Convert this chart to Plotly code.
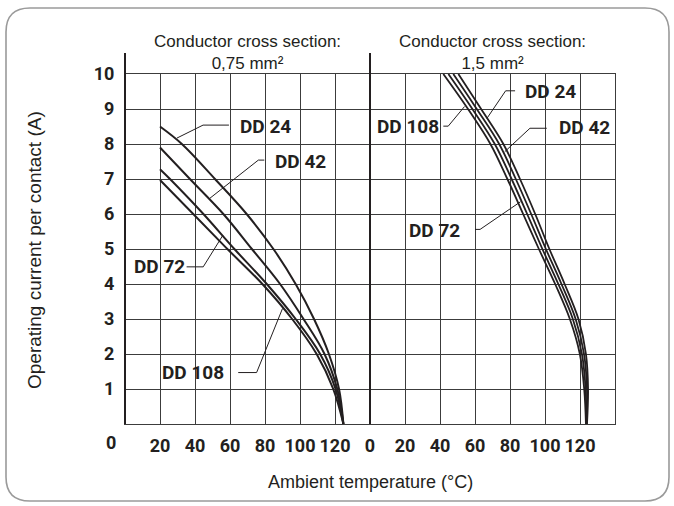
import plotly.graph_objects as go

# ---------------- data ----------------
# Left panel: conductor cross section 0,75 mm²  (temperature °C, current A)
L24_T = [20, 32.5, 51.4, 69.5, 84.8, 97.5, 108.0, 116.5, 122.3, 124.8]
L24_I = [8.5, 8, 7, 6, 5, 4, 3, 2, 1, 0]
L42_T = [20, 37.1, 56.2, 72.5, 88.6, 102.0, 114.0, 121.3, 124.8]
L42_I = [7.9, 7, 6, 5, 4, 3, 2, 1, 0]
L72_T = [20, 25.7, 44.8, 62.5, 81.0, 97.5, 111.5, 120.3, 124.8]
L72_I = [7.28, 7, 6, 5, 4, 3, 2, 1, 0]
L108_T = [20, 39.0, 58.5, 78.5, 95.5, 109.5, 119.0, 124.8]
L108_I = [6.97, 6, 5, 4, 3, 2, 1, 0]

# Right panel: conductor cross section 1,5 mm²
R_I = [10, 9, 8, 7, 6, 5, 4, 3, 2, 1, 0]
R108_T = [41.9, 56.0, 68.8, 78.5, 87.5, 96.5, 105.8, 114.2, 119.9, 122.4, 123.4]
R72_T = [44.8, 58.5, 71.3, 80.9, 89.8, 98.5, 107.6, 115.9, 121.1, 123.2, 123.6]
R42_T = [47.6, 61.0, 73.8, 83.3, 92.1, 100.5, 109.4, 117.5, 122.3, 124.0, 123.8]
R24_T = [50.5, 63.5, 76.2, 85.7, 94.4, 102.5, 111.2, 119.1, 123.4, 124.6, 124.0]

# Leader lines (temperature, current)
LEAD_L24 = ([59.4, 44.6, 29.7], [8.54, 8.54, 8.17])
LEAD_L42 = ([79.6, 76.2, 48.5], [7.54, 7.54, 6.45])
LEAD_L72 = ([35.2, 44.7, 56.0], [4.49, 4.49, 5.4])
LEAD_L108 = ([64.7, 75.2, 90.0], [1.47, 1.47, 3.3])
LEAD_R24 = ([82.9, 77.5, 66.8], [9.52, 9.52, 8.73])
LEAD_R108 = ([41.9, 44.7, 54.0], [8.51, 8.51, 9.07])
LEAD_R42 = ([101.0, 91.4, 77.0], [8.45, 8.45, 7.78])
LEAD_R72 = ([60.0, 62.9, 86.0], [5.56, 5.56, 6.35])

X_TICKS_LEFT = [20, 40, 60, 80, 100, 120]
X_TICKS_RIGHT = [0, 20, 40, 60, 80, 100, 120]
Y_TICKS = [1, 2, 3, 4, 5, 6, 7, 8, 9, 10]

# ---------------- styling ----------------
INK = "#231f20"
GRID = "#3c3c3c"
TICKFONT = dict(family="Roboto, Liberation Sans, Arial, sans-serif",
                size=18, color=INK, weight="bold")
LABELFONT = dict(family="Roboto, Liberation Sans, Arial, sans-serif",
                 size=19, color=INK, weight="bold")
TEXTFONT = dict(family="Liberation Sans, Arial, sans-serif", size=18, color=INK)
TITLEFONT = dict(family="Liberation Sans, Arial, sans-serif", size=17, color=INK)
YTITLEFONT = dict(family="Liberation Sans, Arial, sans-serif", size=19, color=INK)

W, H = 674, 506
ML, MR, MT, MB = 125, 59, 74, 82
PW, PH = W - ML - MR, H - MT - MB


def px(xp):
    return (xp - ML) / PW


def py(yp):
    return (H - MB - yp) / PH


fig = go.Figure()

curves = [
    (L24_T, L24_I, "x", 2.0), (L42_T, L42_I, "x", 2.0),
    (L72_T, L72_I, "x", 2.0), (L108_T, L108_I, "x", 2.0),
    (R108_T, R_I, "x2", 1.8), (R72_T, R_I, "x2", 1.8),
    (R42_T, R_I, "x2", 1.8), (R24_T, R_I, "x2", 1.8),
]
for t, i, xa, lw in curves:
    fig.add_trace(go.Scatter(x=t, y=i, xaxis=xa, yaxis="y", mode="lines",
                             line=dict(color=INK, width=lw, shape="spline", smoothing=1.0),
                             hoverinfo="skip", showlegend=False))

leaders = [(LEAD_L24, "x"), (LEAD_L42, "x"), (LEAD_L72, "x"), (LEAD_L108, "x"),
           (LEAD_R24, "x2"), (LEAD_R108, "x2"), (LEAD_R42, "x2"), (LEAD_R72, "x2")]
for (lx, ly), xa in leaders:
    fig.add_trace(go.Scatter(x=lx, y=ly, xaxis=xa, yaxis="y", mode="lines",
                             line=dict(color=INK, width=1),
                             hoverinfo="skip", showlegend=False))

NB = "\u00a0"
labels = [
    ("DD" + NB + "24", "x", 64.6, 8.51, "left"),
    ("DD" + NB + "42", "x", 84.6, 7.51, "left"),
    ("DD" + NB + "72", "x", 35.4, 4.49, "right"),
    ("DD" + NB + "108", "x", 57.7, 1.46, "right"),
    ("DD" + NB + "24", "x2", 87.4, 9.49, "left"),
    ("DD" + NB + "42", "x2", 106.9, 8.46, "left"),
    ("DD" + NB + "108", "x2", 2.9, 8.49, "left"),
    ("DD" + NB + "72", "x2", 52.6, 5.54, "right"),
]
annotations = []
for txt, xa, x, y, anc in labels:
    annotations.append(dict(text=txt, x=x, y=y, xref=xa, yref="y", xanchor=anc,
                            yanchor="middle", showarrow=False, font=LABELFONT))

annotations += [
    dict(text="Conductor cross section:<br>0,75 mm²", x=0.25, y=py(53), xref="paper",
         yref="paper", xanchor="center", yanchor="middle", showarrow=False, font=TITLEFONT),
    dict(text="Conductor cross section:<br>1,5 mm²", x=0.75, y=py(53), xref="paper",
         yref="paper", xanchor="center", yanchor="middle", showarrow=False, font=TITLEFONT),
    dict(text="Ambient temperature (°C)", x=px(370), y=py(482), xref="paper", yref="paper",
         xanchor="center", yanchor="middle", showarrow=False, font=TEXTFONT),
    dict(text="Operating current per contact (A)", x=px(34), y=py(250), xref="paper",
         yref="paper", xanchor="center", yanchor="middle", textangle=-90,
         showarrow=False, font=YTITLEFONT),
    dict(text="0", x=px(111), y=py(442), xref="paper", yref="paper",
         xanchor="center", yanchor="middle", showarrow=False, font=TICKFONT),
]


def rounded_rect(x0, y0, x1, y1, r):
    a, b, c, d = px(x0), px(x1), py(y0), py(y1)
    rx, ry = r / PW, r / PH
    return (f"M {a + rx} {c} L {b - rx} {c} Q {b} {c} {b} {c - ry} "
            f"L {b} {d + ry} Q {b} {d} {b - rx} {d} L {a + rx} {d} "
            f"Q {a} {d} {a} {d + ry} L {a} {c - ry} Q {a} {c} {a + rx} {c} Z")


shapes = [
    dict(type="path", xref="paper", yref="paper", path=rounded_rect(6, 8, 669, 501, 24),
         line=dict(color="#9a9a9a", width=1.6), layer="below"),
    dict(type="line", xref="paper", yref="paper", x0=0, x1=0, y0=0, y1=py(53),
         line=dict(color=INK, width=2)),
    dict(type="line", xref="paper", yref="paper", x0=0.5, x1=0.5, y0=0, y1=py(53),
         line=dict(color=INK, width=2)),
]

axis_common = dict(range=[0, 140], showgrid=True, gridcolor=GRID, gridwidth=1,
                   zeroline=False, showline=True, linecolor=GRID, linewidth=1,
                   mirror=True, ticks="outside", ticklen=5, tickcolor="rgba(0,0,0,0)",
                   tickangle=0, tickfont=TICKFONT, fixedrange=True)

fig.update_layout(
    width=W, height=H,
    margin=dict(l=ML, r=MR, t=MT, b=MB, pad=0),
    paper_bgcolor="white", plot_bgcolor="white",
    xaxis=dict(domain=[0, 0.5], tickvals=X_TICKS_LEFT, anchor="y", **axis_common),
    xaxis2=dict(domain=[0.5, 1], tickvals=X_TICKS_RIGHT, anchor="y", **axis_common),
    yaxis=dict(range=[0, 10], tickvals=Y_TICKS, showgrid=True, gridcolor=GRID, gridwidth=1,
               zeroline=False, showline=True, linecolor=GRID, linewidth=1, mirror="all",
               ticks="outside", ticklen=6, tickcolor="rgba(0,0,0,0)", tickfont=TICKFONT,
               anchor="x", fixedrange=True),
    annotations=annotations,
    shapes=shapes,
    showlegend=False,
)

fig.write_html("out.html",
               config={"displayModeBar": False},
               post_script="document.body.style.margin='0';"
                           "document.body.style.overflow='hidden';")
